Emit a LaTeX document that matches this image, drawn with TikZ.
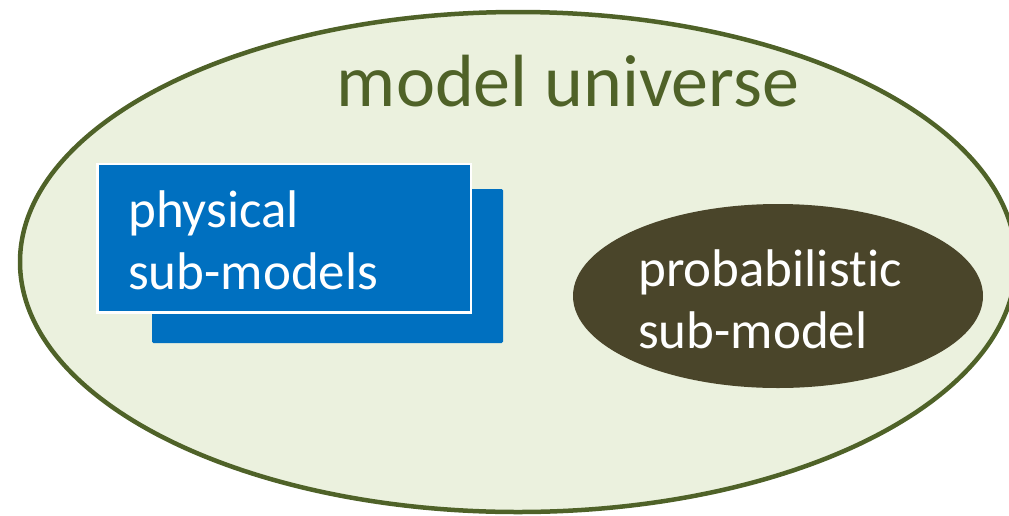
\documentclass[tikz,border=0pt]{standalone}
\usepackage{fontspec}
\setmainfont{Carlito}[RawFeature={-liga;-clig;-calt;-dlig}]
\usetikzlibrary{shapes.geometric}
\definecolor{olivedark}{HTML}{4F6228}
\definecolor{olivelight}{HTML}{EBF1DE}
\definecolor{boxblue}{HTML}{0070C0}
\definecolor{earth}{HTML}{4A452A}
\tikzset{
  universe/.style={ellipse, draw=olivedark, fill=olivelight, line width=4.5pt,
    minimum width=996pt, minimum height=500pt, inner sep=0pt},
  sheet/.style={fill=boxblue, rounded corners=1.5pt},
  sheetfront/.style={fill=boxblue, draw=white, line width=2.5pt},
  blob/.style={ellipse, fill=earth, minimum width=410pt, minimum height=184pt, inner sep=0pt},
  label/.style={text=white, font=\fontsize{53}{62}\selectfont, align=left, inner sep=0pt, anchor=west},
}
\begin{document}
\begin{tikzpicture}[x=1pt, y=-1pt]
  \useasboundingbox (0,0) rectangle (1009,515);
  \clip (0,0) rectangle (1009,515);
  % outer region
  \node[universe] (univ) at (518,262) {};
  \node[text=olivedark, font=\fontsize{74}{88}\selectfont, anchor=base, inner sep=0pt]
    (title) at (568,106) {model universe};
  % stacked sheets
  \path[sheet] (152,189) rectangle (503,343);
  \node[sheetfront, minimum width=373.5pt, minimum height=148.5pt, anchor=north west]
    (front) at (96.25,162.75) {};
  \node[label] (phys) at (128,240) {physical\\sub-models};
  % probabilistic part
  \node[blob] (prob) at (778,296) {};
  \node[label] (probtext) at (638,299) {probabilis\kern0pt tic\\sub-model};
\end{tikzpicture}
\end{document}
